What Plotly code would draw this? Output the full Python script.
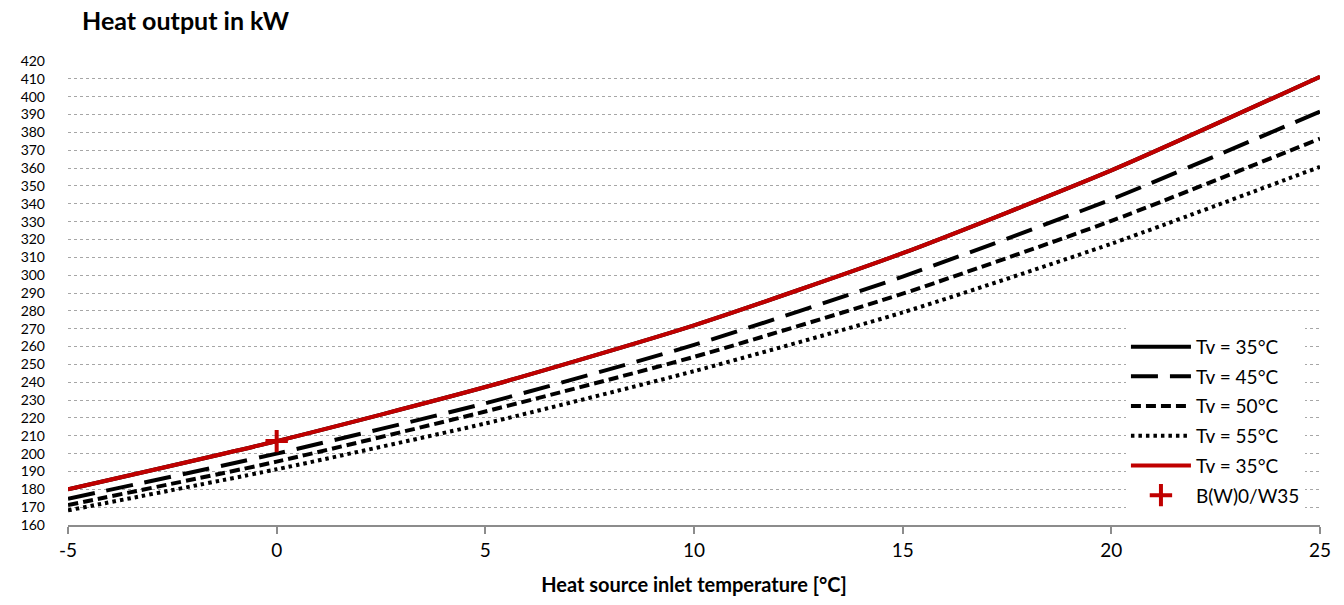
import plotly.graph_objects as go

# Heat source inlet temperature [°C]
inlet_temp = [-5, 0, 5, 10, 15, 20, 25]

# Heat output in kW per flow temperature
output_tv35 = [180.0, 207.0, 237.3, 271.9, 312.3, 358.7, 411.2]
output_tv45 = [174.7, 200.0, 228.2, 260.9, 299.2, 342.5, 391.7]
output_tv50 = [171.2, 195.5, 223.6, 254.2, 289.6, 330.4, 376.5]
output_tv55 = [168.2, 191.2, 216.9, 246.2, 279.1, 317.6, 360.7]

# Rating point B(W)0/W35
rating_temp = [0]
rating_output = [207.0]

y_ticks = list(range(160, 421, 10))
x_ticks = [-5, 0, 5, 10, 15, 20, 25]

FONT = "Lato"
RED = "#C00000"

fig = go.Figure()

fig.add_trace(go.Scatter(
    x=inlet_temp, y=output_tv35, name="Tv = 35°C", mode="lines", legendgroup="a",
    line=dict(color="black", width=4, shape="spline", smoothing=0.6),
))
fig.add_trace(go.Scatter(
    x=inlet_temp, y=output_tv45, name="Tv = 45°C", mode="lines", legendgroup="b",
    line=dict(color="black", width=4, dash="27px,12px", shape="spline", smoothing=0.6),
))
fig.add_trace(go.Scatter(
    x=inlet_temp, y=output_tv50, name="Tv = 50°C", mode="lines", legendgroup="c",
    line=dict(color="black", width=4, dash="10px,5px", shape="spline", smoothing=0.6),
))
fig.add_trace(go.Scatter(
    x=inlet_temp, y=output_tv55, name="Tv = 55°C", mode="lines", legendgroup="d",
    line=dict(color="black", width=4, dash="3.5px,4px", shape="spline", smoothing=0.6),
))
fig.add_trace(go.Scatter(
    x=inlet_temp, y=output_tv35, name="Tv = 35°C", mode="lines", legendgroup="e",
    line=dict(color=RED, width=4, shape="spline", smoothing=0.6),
))
fig.add_trace(go.Scatter(
    x=rating_temp, y=rating_output, name="B(W)0/W35", mode="markers", legendgroup="f",
    marker=dict(symbol="cross-thin", size=16, color=RED, line=dict(width=4, color=RED)),
))

fig.update_layout(
    width=1344, height=605,
    margin=dict(l=68, r=24, t=61, b=78),
    paper_bgcolor="white", plot_bgcolor="white",
    font=dict(family=FONT, size=19, color="black"),
    showlegend=True,
    legend=dict(
        x=0.845, y=0.425, xanchor="left", yanchor="top",
        bgcolor="rgba(255,255,255,1)", borderwidth=0,
        font=dict(family=FONT, size=19, color="black"),
        itemwidth=60, tracegroupgap=2,
    ),
    annotations=[
        dict(text="<b>Heat output in kW</b>", xref="paper", yref="paper",
             x=(80 - 68) / 1252, y=(527 - 20) / 466, xanchor="left", yanchor="middle",
             showarrow=False, font=dict(family=FONT, size=25, color="black")),
    ],
)

fig.update_xaxes(
    range=[-5, 25], tickvals=x_ticks, ticktext=[str(v) for v in x_ticks],
    showgrid=False, zeroline=False,
    showline=True, linecolor="#8C8C8C", linewidth=2,
    ticks="outside", ticklen=7, tickcolor="#8C8C8C", tickwidth=2,
    tickfont=dict(family=FONT, size=19, color="black"),
    title=dict(text="<b>Heat source inlet temperature [°C]</b>",
               font=dict(family=FONT, size=20, color="black"), standoff=18),
)
fig.update_yaxes(
    range=[160, 420], tickvals=y_ticks, ticktext=[str(v) for v in y_ticks],
    showgrid=True, gridcolor="#A6A6A6", gridwidth=1, griddash="dot",
    zeroline=False, showline=False, ticks="",
    ticklabelstandoff=22,
    tickfont=dict(family=FONT, size=14, color="black"),
)

fig.write_html("out.html")
